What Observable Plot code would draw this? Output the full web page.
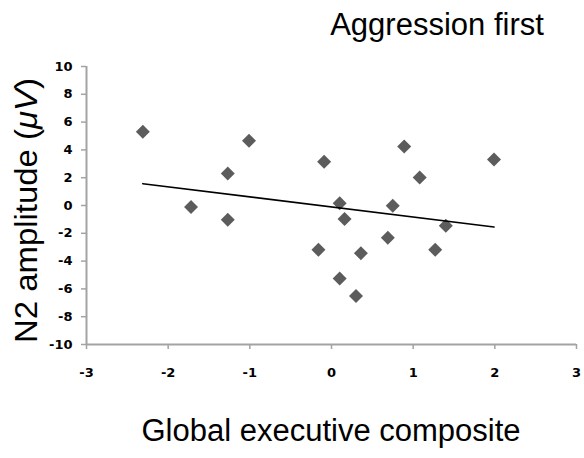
<!DOCTYPE html>
<html>
<head>
<meta charset="utf-8">
<script src="https://cdn.jsdelivr.net/npm/d3@7"></script>
<script src="https://cdn.jsdelivr.net/npm/@observablehq/plot@0.6"></script>
<style>
  html, body { margin: 0; padding: 0; background: #fff; }
  #chart svg { display: block; }
</style>
</head>
<body>
<div id="chart"></div>
<script>
// Data
const execComposite = [-2.31, -1.72, -1.27, -1.27, -1.01, -0.09, -0.16, 0.10, 0.16, 0.10, 0.36, 0.30, 0.69, 0.75, 0.89, 1.08, 1.27, 1.40, 1.99];
const n2Amplitude   = [ 5.30, -0.10,  2.30, -1.03,  4.66,  3.14, -3.19, 0.16, -0.97, -5.26, -3.43, -6.51, -2.32, -0.01, 4.25, 2.01, -3.19, -1.46, 3.31];
const trendX = [-2.31, 1.99];
const trendY = [1.57, -1.55];
const xTicks = [-3, -2, -1, 0, 1, 2, 3];
const yTicks = [-10, -8, -6, -4, -2, 0, 2, 4, 6, 8, 10];

const points = execComposite.map((x, i) => ({x, y: n2Amplitude[i]}));
const trend = trendX.map((x, i) => ({x, y: trendY[i]}));

const axisGray = "#a3a3a3";

const plot = Plot.plot({
  width: 584,
  height: 458,
  marginLeft: 86,
  marginRight: 8,
  marginTop: 66,
  marginBottom: 114,
  style: {background: "#fff", overflow: "visible"},
  x: {domain: [-3, 3]},
  y: {domain: [-10, 10]},
  marks: [
    Plot.axisX({ticks: xTicks, tickSize: 5, tickPadding: 18, stroke: axisGray, strokeWidth: 1.5, fill: "#000", label: null, tickFormat: d => String(d)}),
    Plot.axisY({ticks: yTicks, tickSize: 5, tickPadding: 9, stroke: axisGray, strokeWidth: 1.5, fill: "#000", label: null, tickFormat: d => String(d)}),
    Plot.ruleX([-3], {stroke: axisGray, strokeWidth: 2}),
    Plot.ruleY([-10], {stroke: axisGray, strokeWidth: 2}),
    Plot.dot(points, {x: "x", y: "y", symbol: "diamond2", r: 6.3, fill: "#5c5c5c", stroke: "none"}),
    Plot.line(trend, {x: "x", y: "y", stroke: "#000", strokeWidth: 1.6})
  ]
});

const svg = d3.select(plot);
// tick labels: the only text elements Plot created
svg.selectAll("text")
  .style("font-size", "13px")
  .style("font-weight", "bold")
  .style("font-family", "'DejaVu Sans', Verdana, sans-serif");

svg.append("text")
  .attr("x", 437).attr("y", 35)
  .attr("text-anchor", "middle")
  .style("font-family", "'Liberation Sans', Arial, sans-serif")
  .style("font-size", "31px")
  .attr("fill", "#000")
  .text("Aggression first");

svg.append("text")
  .attr("x", 331).attr("y", 441)
  .attr("text-anchor", "middle")
  .style("font-family", "'Liberation Sans', Arial, sans-serif")
  .style("font-size", "31px")
  .attr("fill", "#000")
  .text("Global executive composite");

const yl = svg.append("text")
  .attr("transform", "translate(37,343) rotate(-90)")
  .attr("x", 0).attr("y", 0)
  .attr("text-anchor", "start")
  .attr("textLength", 265)
  .attr("lengthAdjust", "spacingAndGlyphs")
  .style("font-family", "'Liberation Sans', Arial, sans-serif")
  .style("font-size", "31px")
  .attr("fill", "#000");
yl.append("tspan").text("N2 amplitude (");
yl.append("tspan").attr("font-style", "italic").text("\u03bcV");
yl.append("tspan").text(")");

document.getElementById("chart").appendChild(plot);
</script>
</body>
</html>
